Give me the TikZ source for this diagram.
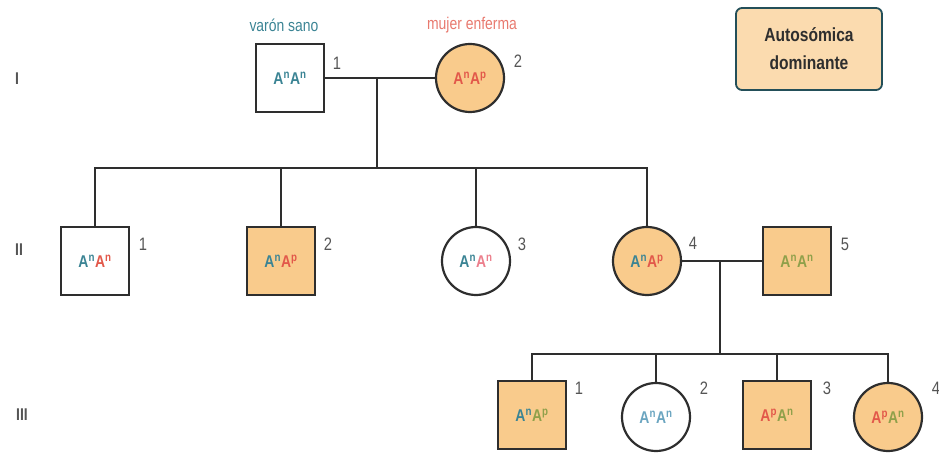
\documentclass[tikz,border=0pt]{standalone}
\usepackage{fontspec}
\setmainfont{Liberation Sans}
\newfontfamily\cond[FakeStretch=0.82]{Liberation Sans}
\definecolor{teal1}{HTML}{3B8494}
\definecolor{red1}{HTML}{E2584A}
\definecolor{pink1}{HTML}{EC7F8C}
\definecolor{olive1}{HTML}{8FA04A}
\definecolor{lblue}{HTML}{6BA5C0}
\definecolor{aff}{HTML}{F9CB8C}
\definecolor{ln}{HTML}{2E2E2E}
\definecolor{num}{HTML}{555555}
\newcommand{\gA}[2]{\textcolor{#1}{A\textsuperscript{#2}}}
\begin{document}
\begin{tikzpicture}[x=1pt,y=-1pt,
  sq/.style={draw=ln,line width=2.2pt,minimum width=68pt,minimum height=68pt,inner sep=0pt,font=\cond\bfseries\fontsize{17}{19}\selectfont},
  ci/.style={circle,draw=ln,line width=2.2pt,minimum size=68pt,inner sep=0pt,font=\cond\bfseries\fontsize{17}{19}\selectfont},
  affd/.style={fill=aff},
  ln/.style={draw=ln,line width=2.2pt},
  nm/.style={text=num,font=\cond\fontsize{18}{20}\selectfont},
  gen/.style={text=num,font=\cond\bfseries\fontsize{17}{19}\selectfont}]
\useasboundingbox (0,0) rectangle (939,454);
% generation labels
\node[gen] (gI) at (17,79) {I};
\node[gen] (gII) at (19,250) {II};
\node[gen] (gIII) at (22,415) {III};
% generation I
\node[sq] (i1) at (290,78) {\gA{teal1}{n}\gA{teal1}{n}};
\node[ci,affd] (i2) at (470,78) {\gA{red1}{n}\gA{red1}{p}};
\node[text=teal1,font=\cond\fontsize{17}{19}\selectfont] (l1) at (284,25) {varón sano};
\node[text=red1!80,font=\cond\fontsize{17}{19}\selectfont] (l2) at (472,25) {mujer enferma};
\node[nm] (n11) at (337,63) {1};
\node[nm] (n12) at (518,61) {2};
% generation II
\node[sq] (ii1) at (95,261) {\gA{teal1}{n}\gA{red1}{n}};
\node[sq,affd] (ii2) at (281,261) {\gA{teal1}{n}\gA{red1}{p}};
\node[ci] (ii3) at (476,261) {\gA{teal1}{n}\gA{pink1}{n}};
\node[ci,affd] (ii4) at (647,261) {\gA{teal1}{n}\gA{red1}{p}};
\node[sq,affd] (ii5) at (797,261) {\gA{olive1}{n}\gA{olive1}{n}};
\node[nm] (n21) at (143,244) {1};
\node[nm] (n22) at (328,244) {2};
\node[nm] (n23) at (522,244) {3};
\node[nm] (n24) at (693,243) {4};
\node[nm] (n25) at (845,244) {5};
% generation III
\node[sq,affd] (iii1) at (532,415) {\gA{teal1}{n}\gA{olive1}{p}};
\node[ci] (iii2) at (656,417) {\gA{lblue}{n}\gA{lblue}{n}};
\node[sq,affd] (iii3) at (777,415) {\gA{red1}{p}\gA{olive1}{n}};
\node[ci,affd] (iii4) at (888,417) {\gA{red1}{p}\gA{olive1}{n}};
\node[nm] (n31) at (579,388) {1};
\node[nm] (n32) at (704,388) {2};
\node[nm] (n33) at (827,388) {3};
\node[nm] (n34) at (936,388) {4};
% legend
\node[draw=teal1!60!black,line width=1.8pt,rounded corners=6pt,fill=aff!70,
  minimum width=146pt,minimum height=82pt,align=center,
  font=\cond\bfseries\fontsize{19}{28}\selectfont,text=ln] (leg) at (809,49) {Autosómica\\dominante};
% connectors gen I
\coordinate (m1) at (377,78);
\coordinate (s1) at (377,168);
\draw[ln] (i1.east) -- (i2.west);
\draw[ln] (m1) -- (s1);
\draw[ln] (ii1.north) |- (s1) -| (ii4.north);
\draw[ln] (ii2.north) -- (ii2.north |- s1);
\draw[ln] (ii3.north) -- (ii3.north |- s1);
% connectors gen II couple
\coordinate (m2) at (720,262);
\coordinate (s2) at (720,354);
\draw[ln] (ii4.east) -- (ii5.west);
\draw[ln] (m2) -- (s2);
\draw[ln] (iii1.north) |- (s2) -| (iii4.north);
\draw[ln] (iii2.north) -- (iii2.north |- s2);
\draw[ln] (iii3.north) -- (iii3.north |- s2);
\end{tikzpicture}
\end{document}
